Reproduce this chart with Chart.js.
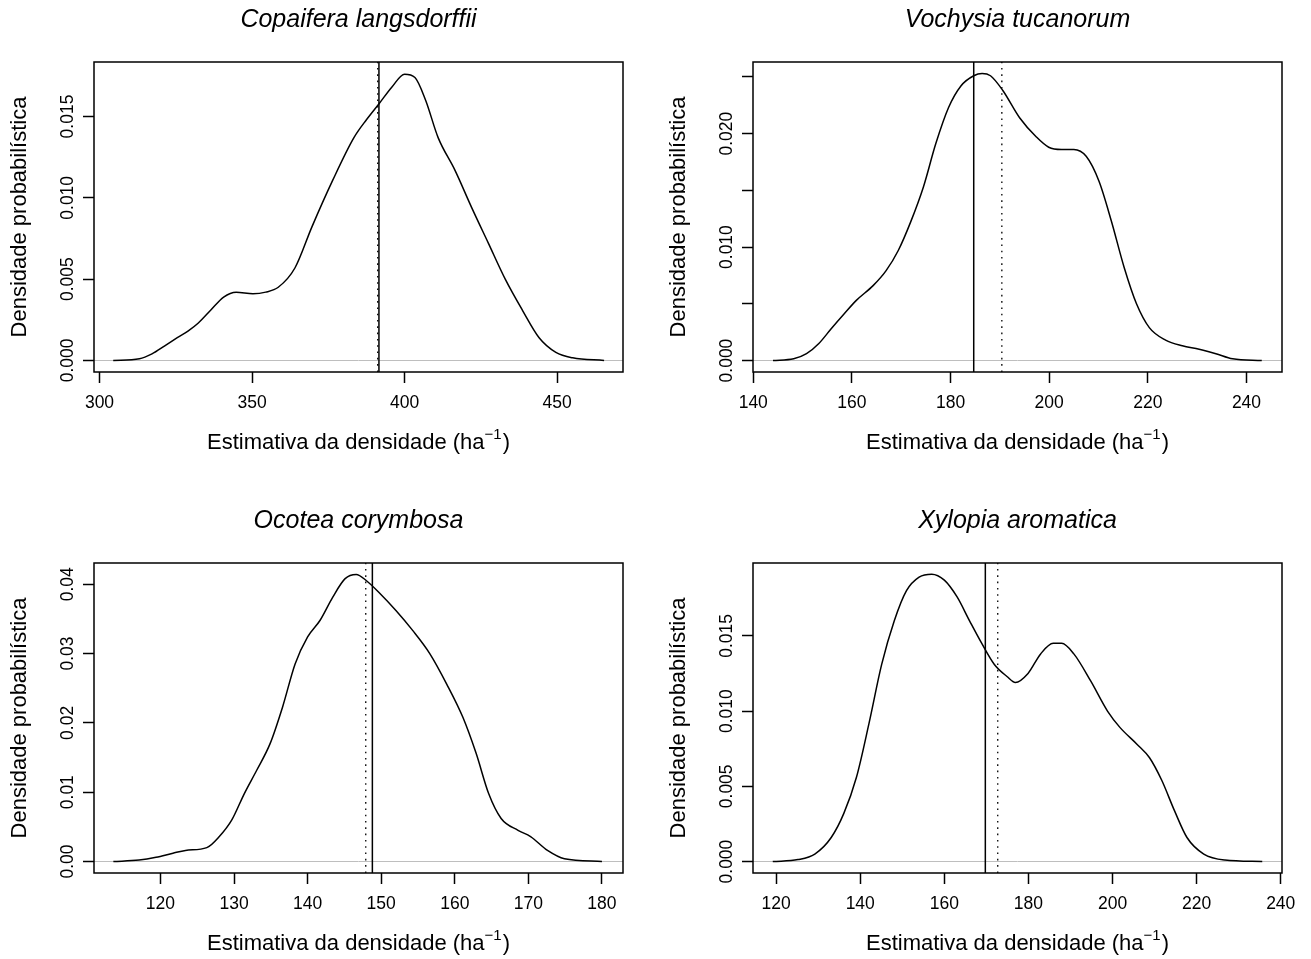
<!DOCTYPE html>
<html lang="pt-BR">
<head>
<meta charset="utf-8">
<title>Densidade probabilística</title>
<script src="https://cdn.jsdelivr.net/npm/chart.js@4.4.1/dist/chart.umd.min.js"></script>
<style>
  html, body { margin: 0; padding: 0; background: #fff; overflow: hidden; }
  #painel { position: relative; width: 1311px; height: 959px; }
  canvas { position: absolute; }
</style>
</head>
<body>
<div id="painel">
  <canvas id="copaifera" width="655" height="480" style="left:0;top:0"></canvas>
  <canvas id="vochysia" width="652" height="480" style="left:659px;top:0"></canvas>
  <canvas id="ocotea" width="655" height="458" style="left:0;top:501px"></canvas>
  <canvas id="xylopia" width="652" height="458" style="left:659px;top:501px"></canvas>
</div>
<script>
const especies = ['Copaifera langsdorffii', 'Vochysia tucanorum', 'Ocotea corymbosa', 'Xylopia aromatica'];

// curvas de densidade (estimativa, densidade)
const copaiferaX = [304.5, 313.1, 317.2, 321.4, 325.5, 329.0, 332.4, 336.5, 340.7, 344.8, 350.3, 354.5, 358.6, 364.1, 369.6, 376.5, 383.4, 387.5, 391.7, 395.8, 400.0, 403.4, 406.9, 411.0, 416.5, 422.0, 427.5, 433.0, 438.6, 444.1, 449.6, 455.1, 465.4];
const copaiferaY = [0, 0.0001, 0.0004, 0.0009, 0.0014, 0.0018, 0.0023, 0.0031, 0.0039, 0.0042, 0.0041, 0.0042, 0.0045, 0.0057, 0.0082, 0.0111, 0.0137, 0.0148, 0.0158, 0.0168, 0.0176, 0.0174, 0.0160, 0.0137, 0.0117, 0.0094, 0.0072, 0.0050, 0.0031, 0.0014, 0.0005, 0.00016, 0];

const vochysiaX = [144, 148.2, 150.8, 153.3, 155.8, 158.4, 160.9, 164.3, 166.9, 169.4, 171.9, 174.5, 177, 179.6, 182.1, 184.7, 186.4, 188.1, 190.6, 194, 197.4, 199.9, 202.5, 205, 207.5, 210.1, 212.6, 215.2, 217.7, 220.3, 223.6, 227, 230.4, 233.8, 237.2, 243.1];
const vochysiaY = [0, 0.00015, 0.0006, 0.0015, 0.0028, 0.0041, 0.0053, 0.0066, 0.0079, 0.0097, 0.0122, 0.0153, 0.0191, 0.0223, 0.0242, 0.0251, 0.0253, 0.0251, 0.0238, 0.0214, 0.0197, 0.0188, 0.0186, 0.0186, 0.0180, 0.0158, 0.0123, 0.0082, 0.0050, 0.0029, 0.0018, 0.0013, 0.0010, 0.0006, 0.00015, 0];

const ocoteaX = [113.6, 117.1, 119.4, 121.7, 123.4, 126.3, 128, 129.7, 131.4, 133.1, 134.9, 136.6, 138.3, 140, 141.7, 143.4, 145.1, 146.6, 148, 149.7, 152, 154.3, 156.6, 158.9, 161.1, 162.9, 164.6, 166.3, 168.6, 170.3, 172.6, 174.9, 180];
const ocoteaY = [0, 0.0002, 0.0006, 0.0012, 0.0016, 0.0020, 0.0036, 0.0060, 0.0098, 0.0132, 0.0170, 0.0223, 0.0285, 0.0324, 0.0348, 0.0381, 0.0408, 0.0414, 0.0405, 0.0388, 0.0362, 0.0333, 0.0300, 0.0256, 0.0208, 0.0156, 0.0098, 0.0062, 0.0045, 0.0036, 0.0016, 0.0004, 0];

const xylopiaX = [119.2, 125.2, 129.2, 133.1, 136.1, 139.1, 142.1, 145.1, 148.1, 151, 154, 157, 160, 163, 166, 168.9, 171.9, 174.9, 176.9, 179.9, 182.9, 185.9, 187.9, 190.8, 194.8, 198.8, 201.8, 205.8, 208.8, 211.7, 214.7, 217.7, 221.7, 226.7, 235.6];
const xylopiaY = [0, 0.00013, 0.0005, 0.0016, 0.0032, 0.0056, 0.0092, 0.0131, 0.0160, 0.0180, 0.0189, 0.0191, 0.0187, 0.0176, 0.0160, 0.0145, 0.0131, 0.0123, 0.0119, 0.0125, 0.0138, 0.0145, 0.0145, 0.0138, 0.0120, 0.0100, 0.0089, 0.0078, 0.0069, 0.0054, 0.0034, 0.0016, 0.0005, 0.0001, 0];

// linhas verticais de referência
const linhaCheia = [391.6, 184.7, 148.8, 169.75];
const linhaPontilhada = [391.2, 190.4, 147.9, 172.7];

const ticksX = [
  [300, 350, 400, 450],
  [140, 160, 180, 200, 220, 240],
  [120, 130, 140, 150, 160, 170, 180],
  [120, 140, 160, 180, 200, 220, 240]
];
const ticksY = [
  [0, 0.005, 0.010, 0.015],
  [0, 0.005, 0.010, 0.015, 0.020, 0.025],
  [0, 0.01, 0.02, 0.03, 0.04],
  [0, 0.005, 0.010, 0.015]
];
const rotulosY = [
  ['0.000', '0.005', '0.010', '0.015'],
  ['0.000', '', '0.010', '', '0.020', ''],
  ['0.00', '0.01', '0.02', '0.03', '0.04'],
  ['0.000', '0.005', '0.010', '0.015']
];
const limitesX = [[298.2, 471.6], [139.95, 247.2], [110.97, 182.86], [114.5, 240.3]];
const limitesY = [[-0.00071, 0.01835], [-0.00101, 0.02631], [-0.00166, 0.04306], [-0.00076, 0.01984]];

const curvas = [
  [copaiferaX, copaiferaY],
  [vochysiaX, vochysiaY],
  [ocoteaX, ocoteaY],
  [xylopiaX, xylopiaY]
];

const FONTE = "'Liberation Sans', Arial, Helvetica, sans-serif";
const TAM_TICK = 17.5;
Chart.defaults.font.family = FONTE;
Chart.defaults.color = '#000';

const medidor = document.createElement('canvas').getContext('2d');
medidor.font = `${TAM_TICK}px ${FONTE}`;

// caixa em volta da área do gráfico
const moldura = {
  id: 'moldura',
  afterDraw(chart) {
    const { ctx, chartArea: a } = chart;
    ctx.save();
    ctx.strokeStyle = '#000';
    ctx.lineWidth = 1.5;
    ctx.strokeRect(a.left, a.top, a.right - a.left, a.bottom - a.top);
    ctx.restore();
  }
};

// título do eixo x com expoente
const tituloEixoX = {
  id: 'tituloEixoX',
  afterDraw(chart) {
    const { ctx, chartArea: a } = chart;
    const base = 'Estimativa da densidade (ha';
    const expoente = '\u22121';
    const fim = ')';
    ctx.save();
    ctx.fillStyle = '#000';
    ctx.textBaseline = 'alphabetic';
    ctx.textAlign = 'left';
    ctx.font = `22px ${FONTE}`;
    const wBase = ctx.measureText(base).width;
    const wFim = ctx.measureText(fim).width;
    ctx.font = `15px ${FONTE}`;
    const wExp = ctx.measureText(expoente).width + 1;
    const y = a.bottom + 77;
    let x = (a.left + a.right) / 2 - (wBase + wExp + wFim) / 2;
    ctx.font = `22px ${FONTE}`;
    ctx.fillText(base, x, y);
    x += wBase;
    ctx.font = `15px ${FONTE}`;
    ctx.fillText(expoente, x, y - 10);
    x += wExp;
    ctx.font = `22px ${FONTE}`;
    ctx.fillText(fim, x, y);
    ctx.restore();
  }
};

const criarGrafico = (id, i, larguraEixoY, margemDireita) => {
  const canvas = document.getElementById(id);
  const [xs, ys] = curvas[i];
  const [yMin, yMax] = limitesY[i];
  const maisLargo = Math.max(...rotulosY[i].map(t => medidor.measureText(t).width));

  const data = {
    datasets: [
      {
        label: 'densidade',
        data: xs.map((x, k) => ({ x, y: ys[k] })),
        borderColor: '#000',
        borderWidth: 1.5,
        pointRadius: 0,
        cubicInterpolationMode: 'monotone'
      },
      {
        label: 'cheia',
        data: [{ x: linhaCheia[i], y: yMin }, { x: linhaCheia[i], y: yMax }],
        borderColor: '#000',
        borderWidth: 1.5,
        pointRadius: 0
      },
      {
        label: 'pontilhada',
        data: [{ x: linhaPontilhada[i], y: yMin }, { x: linhaPontilhada[i], y: yMax }],
        borderColor: '#000',
        borderWidth: 1.3,
        borderDash: [1.6, 4.7],
        pointRadius: 0
      }
    ]
  };

  return new Chart(canvas, {
    type: 'line',
    data,
    options: {
      responsive: false,
      animation: false,
      events: [],
      layout: { padding: { left: 0, right: margemDireita, top: 0, bottom: 0 } },
      scales: {
        x: {
          type: 'linear',
          position: 'bottom',
          min: limitesX[i][0],
          max: limitesX[i][1],
          afterBuildTicks: (scale) => { scale.ticks = ticksX[i].map(value => ({ value })); },
          afterFit: (scale) => { scale.height = canvas.height - 372; },
          border: { display: false },
          grid: { drawOnChartArea: false, drawTicks: true, tickLength: 11, tickColor: '#000', tickWidth: 1.5 },
          ticks: { autoSkip: false, maxRotation: 0, padding: 10, font: { size: TAM_TICK }, callback: (v) => String(v) }
        },
        y: {
          type: 'linear',
          min: yMin,
          max: yMax,
          afterBuildTicks: (scale) => { scale.ticks = ticksY[i].map(value => ({ value })); },
          afterFit: (scale) => { scale.width = larguraEixoY; },
          border: { display: false },
          grid: {
            drawTicks: true,
            tickLength: 11,
            tickColor: '#000',
            tickWidth: 1.5,
            lineWidth: 1,
            color: (c) => (c.tick && c.tick.value === 0 ? '#bebebe' : 'rgba(0,0,0,0)')
          },
          ticks: {
            autoSkip: false,
            minRotation: 90,
            maxRotation: 90,
            crossAlign: 'center',
            padding: 26 - 11 - maisLargo / 2,
            font: { size: TAM_TICK },
            callback: (v, k) => rotulosY[i][k]
          },
          title: {
            display: true,
            text: 'Densidade probabilística',
            font: { size: 22, lineHeight: 1 },
            padding: { top: larguraEixoY - 74.5 - 11, bottom: 0 }
          }
        }
      },
      plugins: {
        legend: { display: false },
        tooltip: { enabled: false },
        title: {
          display: true,
          fullSize: false,
          text: especies[i],
          font: { size: 25, style: 'italic', weight: 'normal', lineHeight: 1 },
          padding: { top: 7.5, bottom: 29.5 }
        }
      }
    },
    plugins: [moldura, tituloEixoX]
  });
};

window.onload = () => {
  criarGrafico('copaifera', 0, 94, 32);
  criarGrafico('vochysia', 1, 94, 29);
  criarGrafico('ocotea', 2, 94, 32);
  criarGrafico('xylopia', 3, 94, 29);
};
</script>
</body>
</html>
